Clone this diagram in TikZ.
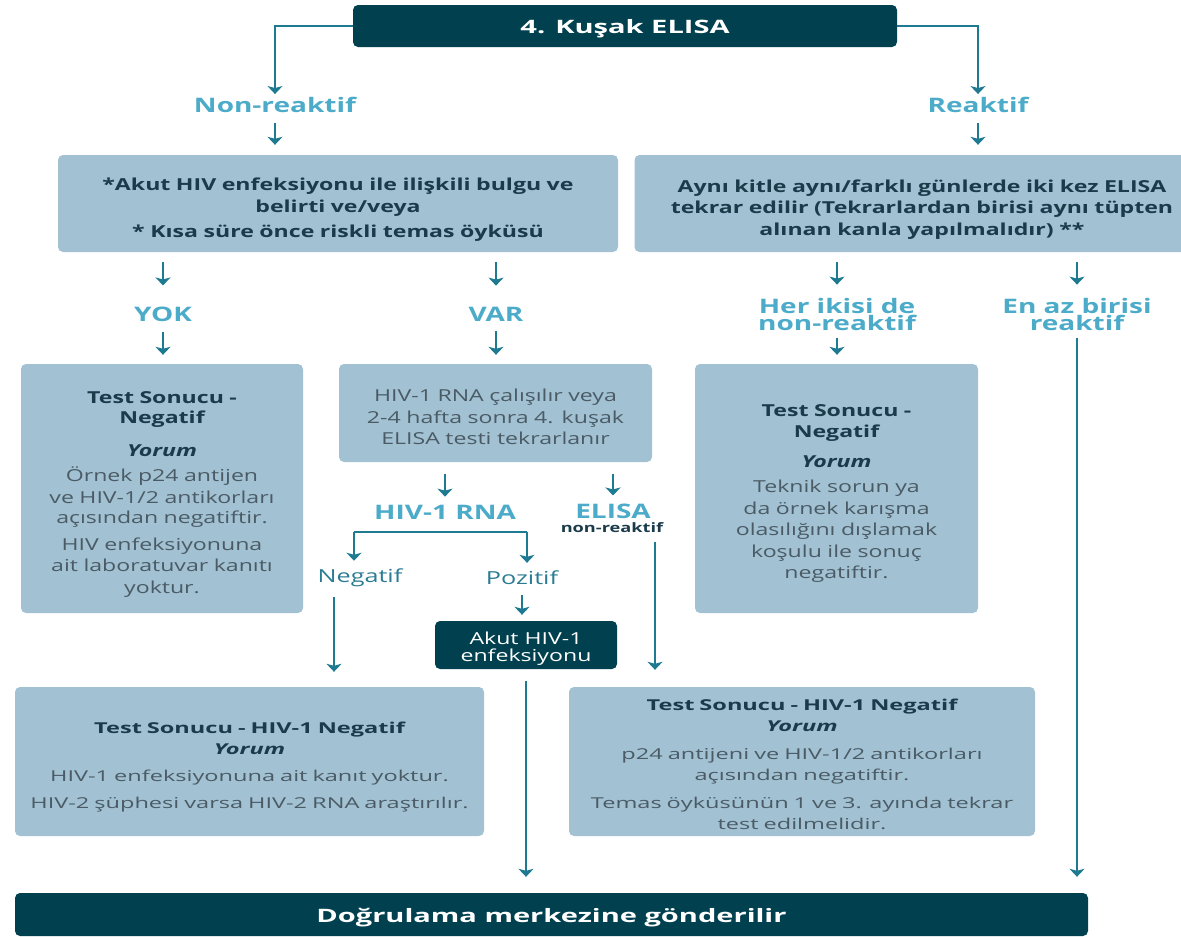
\documentclass[tikz,border=0pt]{standalone}
\usepackage{fontspec}
\setmainfont{Open Sans}[FakeStretch=1.4]
\newfontfamily\widefont{Open Sans}[FakeStretch=1.57]
\usetikzlibrary{arrows.meta}
\definecolor{dk}{HTML}{00404F}
\definecolor{lt}{HTML}{A2C1D2}
\definecolor{cy}{HTML}{4BABC9}
\definecolor{ac}{HTML}{1D7A91}
\definecolor{tx}{HTML}{1B3B4B}
\definecolor{gy}{HTML}{4A5B66}
\definecolor{tl}{HTML}{2A7C93}
\newcommand{\fs}[2]{\fontsize{#1}{#2}\selectfont}
\begin{document}
\begin{tikzpicture}[x=1pt,y=-1pt,
  darkbox/.style={fill=dk, rounded corners=5pt, inner sep=0pt},
  lightbox/.style={fill=lt, rounded corners=5pt, inner sep=0pt},
  txt/.style={align=center, inner sep=0pt},
  lbl/.style={text=cy, font=\bfseries\fs{20}{17}, align=center, inner sep=0pt},
  sub/.style={text=tl, font=\fs{18}{18}, inner sep=0pt},
  arr/.style={draw=ac, line width=2pt, -{Stealth[width=15pt,length=8pt,inset=2pt]}},
  ln/.style={draw=ac, line width=2pt}]
\useasboundingbox (0,0) rectangle (1181,937);

% top
\node[darkbox, minimum width=544pt, minimum height=42pt] (top) at (625,26) {};
\node[txt, text=white, font=\widefont\bfseries\fs{18.5}{18.5}] (topt) at ([yshift=-3pt]top.center) {4. Kuşak ELISA};
\node[lbl] (nonreak) at (275,105) {Non-reaktif};
\node[lbl] (reak) at (978,105) {Reaktif};

% row 2
\node[lightbox, minimum width=560pt, minimum height=97pt] (boxA) at (338,203.5) {};
\node[txt, text width=540pt, text=tx, font=\bfseries\fs{16.5}{21.5}] (boxAt) at ([yshift=-6.5pt]boxA.center)
  {*Akut HIV enfeksiyonu ile ilişkili bulgu ve\\ belirti ve/veya\\[4pt] * Kısa süre önce riskli temas öyküsü};
\node[lightbox, minimum width=575pt, minimum height=97pt] (boxB) at (922,203.5) {};
\node[txt, text width=540pt, text=tx, font=\bfseries\fs{16.5}{21.8}] (boxBt) at ([yshift=-6pt]boxB.center)
  {Aynı kitle aynı/farklı günlerde iki kez ELISA\\ tekrar edilir (Tekrarlardan birisi aynı tüpten\\ alınan kanla yapılmalıdır) **};

\node[lbl] (yok) at (163,314) {YOK};
\node[lbl] (var) at (496,314) {VAR};
\node[lbl] (her) at (837,314) {Her ikisi de\\ non-reaktif};
\node[lbl] (enaz) at (1077,314) {En az birisi\\ reaktif};

% row 3
\node[lightbox, minimum width=282pt, minimum height=249pt] (boxC) at (162,488.5) {};
\node[txt, text width=270pt, text=gy, font=\fs{16.5}{21.5}] (boxCt) at ([yshift=-6pt]boxC.center)
  {{\color{tx}\bfseries Test Sonucu -\\[-1pt] Negatif}\\[11pt]
   {\color{tx}\bfseries\itshape Yorum}\\[4pt]
   Örnek p24 antijen\\ ve HIV-1/2 antikorları\\[-1pt] açısından negatiftir.\\[5pt]
   HIV enfeksiyonuna\\ ait laboratuvar kanıtı\\ yoktur.};
\node[lightbox, minimum width=313pt, minimum height=98pt] (boxD) at (495.5,413) {};
\node[txt, text width=300pt, text=gy, font=\fs{16.5}{21.5}] (boxDt) at ([yshift=-4pt]boxD.center)
  {HIV-1 RNA çalışılır veya\\ 2-4 hafta sonra 4. kuşak\\ ELISA testi tekrarlanır};
\node[lightbox, minimum width=283pt, minimum height=249pt] (boxG) at (836.5,488.5) {};
\node[txt, text width=270pt, text=gy, font=\fs{16.5}{21.5}] (boxGt) at ([yshift=-5pt]boxG.center)
  {{\color{tx}\bfseries Test Sonucu -\\ Negatif}\\[8pt]
   {\color{tx}\bfseries\itshape Yorum}\\[4pt]
   Teknik sorun ya\\ da örnek karışma\\ olasılığını dışlamak\\ koşulu ile sonuç\\ negatiftir.};

\node[lbl] (hivrna) at (445,512) {HIV-1 RNA};
\node[lbl] (elisa) at (613,511) {ELISA};
\node[text=tx, font=\bfseries\fs{13}{13}, inner sep=0pt] (nonr) at (612,528) {non-reaktif};
\node[sub] (neg) at (360,578) {Negatif};
\node[sub] (poz) at (522,578) {Pozitif};

\node[darkbox, minimum width=182pt, minimum height=48pt] (boxE) at (526,645) {};
\node[txt, text=white, font=\fs{16.5}{17}] (boxEt) at ([yshift=-4pt]boxE.center) {Akut HIV-1\\ enfeksiyonu};

% row 4
\node[lightbox, minimum width=469pt, minimum height=149pt] (boxF) at (249.5,761.5) {};
\node[txt, text width=465pt, text=gy, font=\widefont\fs{15}{21.5}] (boxFt) at ([yshift=-5.5pt]boxF.center)
  {{\color{tx}\bfseries Test Sonucu - HIV-1 Negatif}\\
   {\color{tx}\bfseries\itshape Yorum}\\[5pt]
   HIV-1 enfeksiyonuna ait kanıt yoktur.\\[6pt]
   HIV-2 şüphesi varsa HIV-2 RNA araştırılır.};
\node[lightbox, minimum width=466pt, minimum height=149pt] (boxH) at (802,761.5) {};
\node[txt, text width=460pt, text=gy, font=\widefont\fs{15}{21.5}] (boxHt) at ([yshift=-3pt]boxH.center)
  {{\color{tx}\bfseries Test Sonucu - HIV-1 Negatif}\\
   {\color{tx}\bfseries\itshape Yorum}\\[6pt]
   p24 antijeni ve HIV-1/2 antikorları\\ açısından negatiftir.\\[6pt]
   Temas öyküsünün 1 ve 3. ayında tekrar\\ test edilmelidir.};

\node[darkbox, minimum width=1073pt, minimum height=43pt] (bottom) at (551.5,914.5) {};
\node[txt, text=white, font=\widefont\bfseries\fs{18.5}{18.5}] (bottomt) at ([yshift=-3pt]bottom.center) {Doğrulama merkezine gönderilir};

% free ends
\coordinate (bl) at (354,532);
\coordinate (br) at (527,532);
\coordinate (negl) at (334,597);
\coordinate (elr) at (655,542);
\coordinate (ez) at (526,681);

% connectors
\draw[arr] (top.west) -| ([yshift=3pt]nonreak.north);
\draw[arr] (top.east) -| ([yshift=3pt]reak.north);
\draw[arr] ([yshift=-10pt]nonreak.south) -- ([yshift=10pt]nonreak.south |- boxA.north);
\draw[arr] ([yshift=-10pt]reak.south) -- ([yshift=10pt]reak.south |- boxB.north);

\draw[arr] ([yshift=-10pt]boxA.south -| yok) -- ([yshift=21pt]yok.north);
\draw[arr] ([yshift=-10pt]yok.south) -- ([yshift=9pt]yok.south |- boxC.north);
\draw[arr] ([yshift=-10pt]boxA.south -| var) -- ([yshift=21pt]var.north);
\draw[arr] ([yshift=-10pt]var.south) -- ([yshift=9pt]var.south |- boxD.north);
\draw[arr] ([yshift=-10pt]boxB.south -| her) -- ([yshift=13pt]her.north);
\draw[arr] ([yshift=-8pt]her.south) -- ([yshift=9pt]her.south |- boxG.north);
\draw[arr] ([yshift=-10pt]boxB.south -| enaz) -- ([yshift=13pt]enaz.north);
\draw[arr] ([yshift=-8pt]enaz.south) -- ([yshift=16pt]enaz.south |- bottom.north);

\draw[arr] ([yshift=-12pt]boxD.south -| hivrna) -- ([yshift=8pt]hivrna.north);
\draw[arr] ([yshift=-12pt]boxD.south -| elisa) -- ([yshift=8pt]elisa.north);
\draw[ln] (bl) -- (br);
\draw[arr] (bl) -- ([yshift=8pt]bl |- neg.north);
\draw[arr] (br) -- ([yshift=8pt]br |- poz.north);
\draw[arr] ([yshift=-10pt]poz.south) -- ([yshift=6pt]poz.south |- boxE.north);
\draw[arr] (negl) -- ([yshift=15pt]negl |- boxF.north);
\draw[arr] (elr) -- ([yshift=17pt]elr |- boxH.north);
\draw[arr] (ez) -- ([yshift=16pt]ez |- bottom.north);
\end{tikzpicture}
\end{document}
